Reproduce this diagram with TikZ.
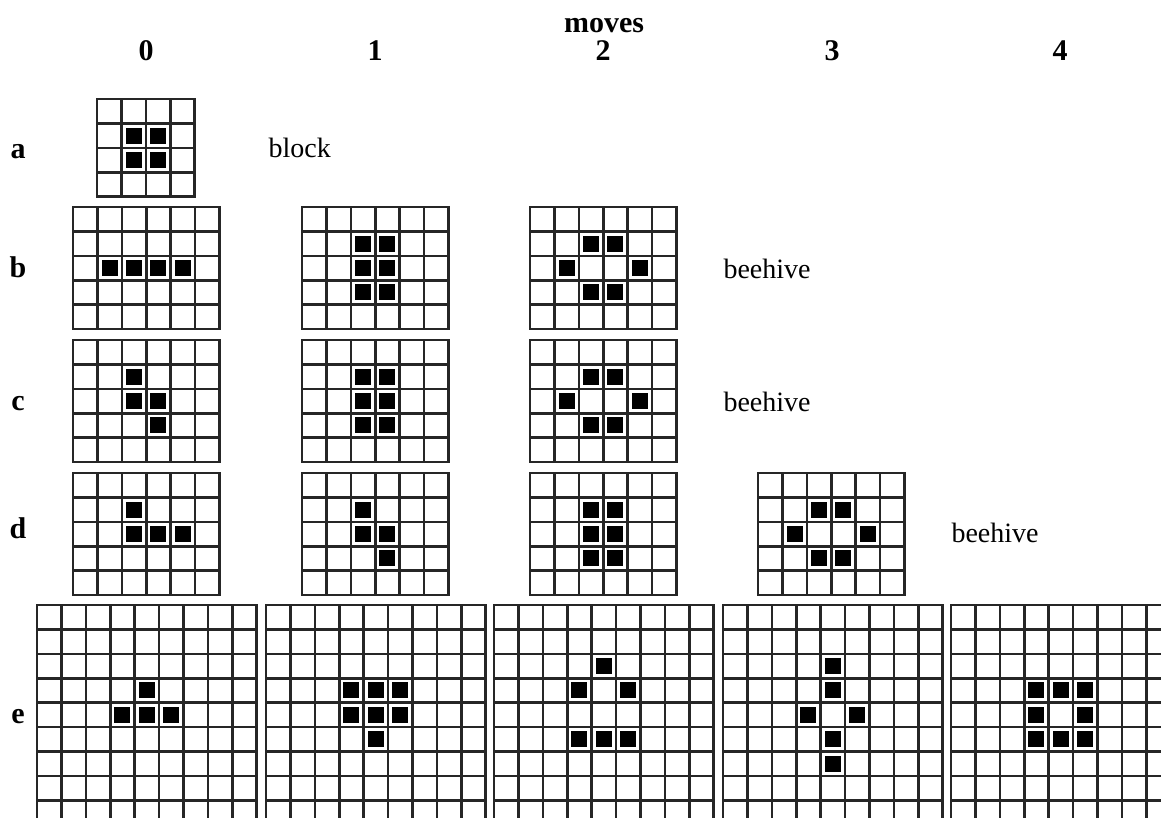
\documentclass[tikz,border=0pt]{standalone}
\usepackage{fontspec}
\setmainfont{Liberation Serif}

\tikzset{
  gridline/.style={draw=black!85, line width=2.6pt, line cap=rect},
  livecell/.style={fill=black},
  headlabel/.style={font=\fontsize{30}{32}\selectfont\bfseries, anchor=base},
  patname/.style={font=\fontsize{28}{30}\selectfont, anchor=base west},
}

% one board: top left corner, columns, rows, live cells as col/row
\newcommand{\lifeboard}[5]{%
  \begin{scope}[shift={(#1,#2)}]
    \foreach \c/\r in {#5}
      \fill[livecell] (\c*24.4+4.2,\r*24.4+4.2) rectangle ++(16,16);
    \foreach \i in {0,...,#3}
      \draw[gridline] (\i*24.4,0) -- (\i*24.4,#4*24.4);
    \foreach \j in {0,...,#4}
      \draw[gridline] (0,\j*24.4) -- (#3*24.4,\j*24.4);
  \end{scope}}

\begin{document}
\begin{tikzpicture}[x=1pt, y=-1pt]
  \useasboundingbox (0,0) rectangle (1161,817);
  \clip (0,0) rectangle (1161,817);

  % header
  \node[headlabel] (moves) at (604,32) {moves};
  \foreach \k/\x in {0/146,1/375,2/603,3/832,4/1060}
    \node[headlabel] (move\k) at (\x,60) {\k};

  % row letters
  \node[headlabel] (rowa) at (18,158) {a};
  \node[headlabel] (rowb) at (18,277) {b};
  \node[headlabel] (rowc) at (18,410) {c};
  \node[headlabel] (rowd) at (18,538) {d};
  \node[headlabel] (rowe) at (18,723) {e};

  % row a
  \lifeboard{97}{99}{4}{4}{1/1,2/1,1/2,2/2}
  \node[patname] (blocka) at (265,157) {block};

  % row b
  \lifeboard{73}{207}{6}{5}{1/2,2/2,3/2,4/2}
  \lifeboard{302}{207}{6}{5}{2/1,3/1,2/2,3/2,2/3,3/3}
  \lifeboard{530}{207}{6}{5}{2/1,3/1,1/2,4/2,2/3,3/3}
  \node[patname] (hiveb) at (720,278) {beehive};

  % row c
  \lifeboard{73}{340}{6}{5}{2/1,2/2,3/2,3/3}
  \lifeboard{302}{340}{6}{5}{2/1,3/1,2/2,3/2,2/3,3/3}
  \lifeboard{530}{340}{6}{5}{2/1,3/1,1/2,4/2,2/3,3/3}
  \node[patname] (hivec) at (720,411) {beehive};

  % row d
  \lifeboard{73}{473}{6}{5}{2/1,2/2,3/2,4/2}
  \lifeboard{302}{473}{6}{5}{2/1,2/2,3/2,3/3}
  \lifeboard{530}{473}{6}{5}{2/1,3/1,2/2,3/2,2/3,3/3}
  \lifeboard{758}{473}{6}{5}{2/1,3/1,1/2,4/2,2/3,3/3}
  \node[patname] (hived) at (948,542) {beehive};

  % row e (boards run past the lower edge)
  \lifeboard{37}{605}{9}{9}{4/3,3/4,4/4,5/4}
  \lifeboard{266}{605}{9}{9}{3/3,4/3,5/3,3/4,4/4,5/4,4/5}
  \lifeboard{494}{605}{9}{9}{4/2,3/3,5/3,3/5,4/5,5/5}
  \lifeboard{723}{605}{9}{9}{4/2,4/3,3/4,5/4,4/5,4/6}
  \lifeboard{951}{605}{9}{9}{3/3,4/3,5/3,3/4,5/4,3/5,4/5,5/5}
\end{tikzpicture}
\end{document}
